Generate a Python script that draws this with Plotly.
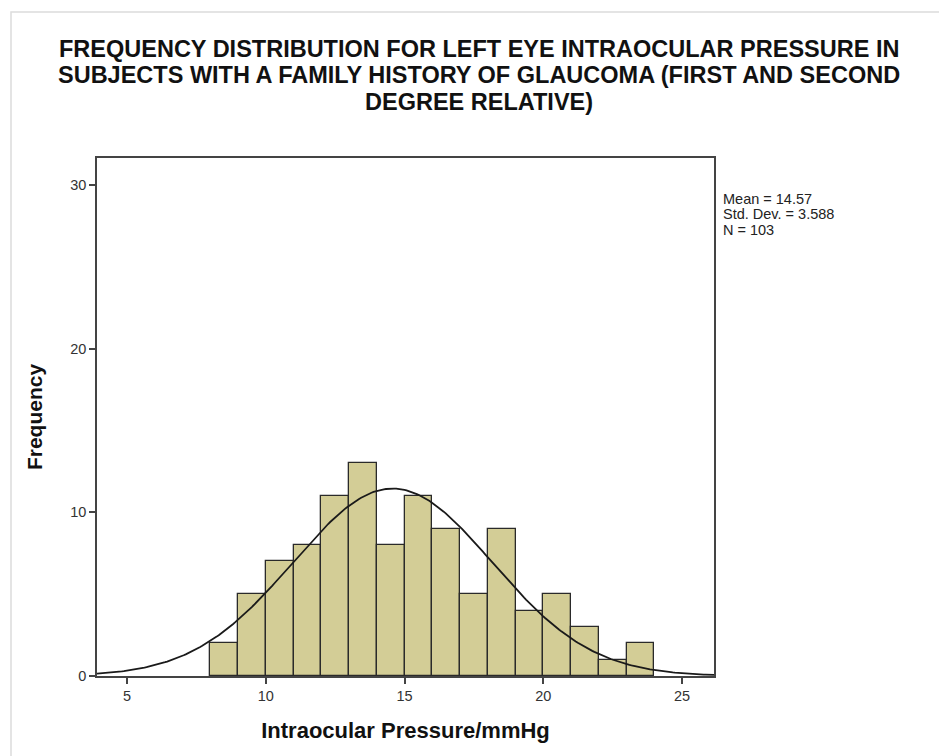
import numpy as np
import plotly.graph_objects as go

# ── Histogram data (bin width 1 mmHg) ────────────────────────────────────────
bin_left = [8, 9, 10, 11, 12, 13, 14, 15, 16, 17, 18, 19, 20, 21, 22, 23]
counts   = [2, 5, 7, 8, 11, 13, 8, 11, 9, 5, 9, 4, 5, 3, 1, 2]

# ── Summary statistics (shown in the box on the right) ───────────────────────
mean_iop = 14.57
sd_iop   = 3.588
n_iop    = 103
bin_w    = 1.0

x_range = [3.92, 26.15]
y_range = [0, 31.65]
x_ticks = [5, 10, 15, 20, 25]
y_ticks = [0, 10, 20, 30]

title_lines = [
    "FREQUENCY DISTRIBUTION FOR LEFT EYE INTRAOCULAR PRESSURE IN",
    "SUBJECTS WITH A FAMILY HISTORY OF GLAUCOMA (FIRST AND SECOND",
    "DEGREE RELATIVE)",
]

_BAR  = "#d3cd96"
_EDGE = "#2a2a2a"
_AXIS = "#444444"
_TXT  = "#222222"
_FONT = "Liberation Sans, Arial, sans-serif"

# the page puts the figure ~7px in from the window corner
OFF = 7
W, H = 947, 756
L, R, T, B = 96 - OFF, 234 + OFF, 157 - OFF, 81 + OFF
pw, ph = W - L - R, H - T - B

# normal curve fitted from the stated mean / sd, scaled to counts
xc = np.linspace(x_range[0], x_range[1], 300)
yc = n_iop * bin_w / (sd_iop * np.sqrt(2 * np.pi)) * np.exp(-0.5 * ((xc - mean_iop) / sd_iop) ** 2)

fig = go.Figure()
fig.add_trace(go.Bar(
    x=[b + bin_w / 2 for b in bin_left], y=counts, width=bin_w,
    marker=dict(color=_BAR, line=dict(color=_EDGE, width=1.3)),
    showlegend=False, hoverinfo="x+y",
))
fig.add_trace(go.Scatter(
    x=xc, y=yc, mode="lines",
    line=dict(color="#1a1a1a", width=1.8),
    showlegend=False, hoverinfo="skip",
))

# screen pixel -> paper coordinate
def px(x):
    return (x - OFF - L) / pw

def py(y):
    return (H - B - (y - OFF)) / ph

fig.add_shape(type="rect", xref="paper", yref="paper",
              x0=px(10), x1=px(975), y0=py(11), y1=py(790),
              line=dict(color="#dcdcdc", width=1.5), layer="below")

# title, one annotation per line to keep SPSS' tight line spacing
for i, s in enumerate(title_lines):
    fig.add_annotation(
        xref="paper", yref="paper", x=px(478), y=py(48 + 26.5 * i),
        xanchor="center", yanchor="middle", showarrow=False,
        text=f"<b>{s}</b>", font=dict(family=_FONT, size=23.5, color="#111"),
    )

stats_lines = [f"Mean = {mean_iop:.2f}", f"Std. Dev. = {sd_iop:.3f}", f"N = {n_iop}"]
for i, s in enumerate(stats_lines):
    fig.add_annotation(
        xref="paper", yref="paper", x=px(720), y=py(198 + 15.5 * i),
        xanchor="left", yanchor="middle", showarrow=False, align="left",
        text=s, font=dict(family=_FONT, size=14.5, color=_TXT),
    )

fig.update_layout(
    width=W, height=H,
    margin=dict(l=L, r=R, t=T, b=B),
    paper_bgcolor="white", plot_bgcolor="white",
    font=dict(family=_FONT, size=12, color=_TXT),
    bargap=0,
    xaxis=dict(
        range=x_range, tickvals=x_ticks, ticks="outside", ticklen=6,
        tickcolor=_AXIS, tickwidth=1.5,
        showline=True, linecolor=_AXIS, linewidth=1.5, mirror=True,
        showgrid=False, zeroline=False,
        tickfont=dict(size=14.5, color="#333"),
        title=dict(text="<b>Intraocular Pressure/mmHg</b>",
                   font=dict(size=22, color="#111"), standoff=19),
    ),
    yaxis=dict(
        range=y_range, tickvals=y_ticks, ticks="outside", ticklen=6,
        tickcolor=_AXIS, tickwidth=1.5,
        showline=True, linecolor=_AXIS, linewidth=1.5, mirror=True,
        showgrid=False, zeroline=False,
        tickfont=dict(size=14.5, color="#333"),
        title=dict(text="<b>Frequency</b>",
                   font=dict(size=21, color="#111"), standoff=22),
    ),
)

fig.write_html("out.html")
